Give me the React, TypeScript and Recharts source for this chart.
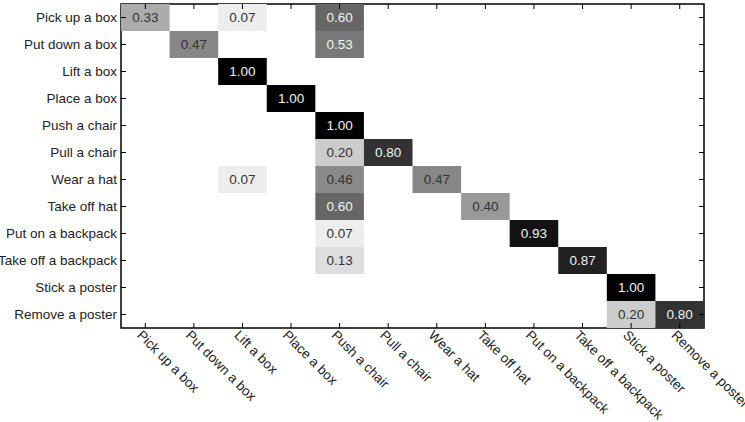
import React from "react";
import {
  ScatterChart,
  Scatter,
  XAxis,
  YAxis,
  ReferenceArea,
} from "recharts";

// action classes, same order on both axes
const actions = [
  "Pick up a box",
  "Put down a box",
  "Lift a box",
  "Place a box",
  "Push a chair",
  "Pull a chair",
  "Wear a hat",
  "Take off hat",
  "Put on a backpack",
  "Take off a backpack",
  "Stick a poster",
  "Remove a poster",
];

// confusion matrix rows (actual) x columns (predicted)
const matrix = [
  [0.33, 0, 0.07, 0, 0.6, 0, 0, 0, 0, 0, 0, 0],
  [0, 0.47, 0, 0, 0.53, 0, 0, 0, 0, 0, 0, 0],
  [0, 0, 1.0, 0, 0, 0, 0, 0, 0, 0, 0, 0],
  [0, 0, 0, 1.0, 0, 0, 0, 0, 0, 0, 0, 0],
  [0, 0, 0, 0, 1.0, 0, 0, 0, 0, 0, 0, 0],
  [0, 0, 0, 0, 0.2, 0.8, 0, 0, 0, 0, 0, 0],
  [0, 0, 0.07, 0, 0.46, 0, 0.47, 0, 0, 0, 0, 0],
  [0, 0, 0, 0, 0.6, 0, 0, 0.4, 0, 0, 0, 0],
  [0, 0, 0, 0, 0.07, 0, 0, 0, 0.93, 0, 0, 0],
  [0, 0, 0, 0, 0.13, 0, 0, 0, 0, 0.87, 0, 0],
  [0, 0, 0, 0, 0, 0, 0, 0, 0, 0, 1.0, 0],
  [0, 0, 0, 0, 0, 0, 0, 0, 0, 0, 0.2, 0.8],
];

const cells = matrix.flatMap((row, r) =>
  row
    .map((v, c) => ({ x: c, y: r, v }))
    .filter((d) => d.v > 0)
);

const ticks = actions.map((_, i) => i);

const WIDTH = 745;
const HEIGHT = 422;
const Y_AXIS_W = 121;
const X_AXIS_H = 94;
const MARGIN = { top: 4, right: 41, bottom: 0, left: 0 };
const PLOT_W = WIDTH - Y_AXIS_W - MARGIN.right - MARGIN.left;
const PLOT_H = HEIGHT - X_AXIS_H - MARGIN.top - MARGIN.bottom;
const CELL_W = PLOT_W / actions.length;
const CELL_H = PLOT_H / actions.length;
const FONT = "'Liberation Sans', Arial, Helvetica, sans-serif";
const FONT_SIZE = 13.5;
const TICK_LEN = 5;

const grey = (v: number) => {
  const g = Math.round(255 * (1 - v));
  return `rgb(${g},${g},${g})`;
};

const CellShape = (props: any) => {
  const { cx, cy, payload } = props;
  if (cx == null || cy == null) return null;
  return (
    <g>
      <rect
        x={cx - CELL_W / 2}
        y={cy - CELL_H / 2}
        width={CELL_W}
        height={CELL_H}
        fill={grey(payload.v)}
      />
      <text
        x={cx}
        y={cy}
        dy="0.35em"
        textAnchor="middle"
        fontSize={FONT_SIZE}
        fontFamily={FONT}
        fill={payload.v > 0.5 ? "#f2f2f2" : "#333"}
      >
        {payload.v.toFixed(2)}
      </text>
    </g>
  );
};

const XTick = (props: any) => {
  const { x, y, payload } = props;
  return (
    <g>
      <line x1={x} y1={y} x2={x} y2={y - TICK_LEN} stroke="#000" />
      <line
        x1={x}
        y1={y - PLOT_H}
        x2={x}
        y2={y - PLOT_H + TICK_LEN}
        stroke="#000"
      />
      <text
        transform={`translate(${x - 9},${y + 8}) rotate(45)`}
        textAnchor="start"
        fontSize={FONT_SIZE}
        fontFamily={FONT}
        fill="#222"
      >
        {actions[payload.value]}
      </text>
    </g>
  );
};

const YTick = (props: any) => {
  const { x, y, payload } = props;
  return (
    <g>
      <line x1={x} y1={y} x2={x + TICK_LEN} y2={y} stroke="#000" />
      <line
        x1={x + PLOT_W}
        y1={y}
        x2={x + PLOT_W - TICK_LEN}
        y2={y}
        stroke="#000"
      />
      <text
        x={x - 4}
        y={y}
        dy="0.35em"
        textAnchor="end"
        fontSize={FONT_SIZE}
        fontFamily={FONT}
        fill="#222"
      >
        {actions[payload.value]}
      </text>
    </g>
  );
};

export default function App() {
  return (
    <div style={{ position: "absolute", left: 0, top: 0, background: "#fff" }}>
      <ScatterChart width={WIDTH} height={HEIGHT} margin={MARGIN}>
        <XAxis
          type="number"
          dataKey="x"
          domain={[-0.5, 11.5]}
          ticks={ticks}
          interval={0}
          height={X_AXIS_H}
          tickSize={0}
          tickMargin={0}
          axisLine={false}
          tick={<XTick />}
        />
        <YAxis
          type="number"
          dataKey="y"
          domain={[-0.5, 11.5]}
          ticks={ticks}
          interval={0}
          reversed
          width={Y_AXIS_W}
          tickSize={0}
          tickMargin={0}
          axisLine={false}
          tick={<YTick />}
        />
        <Scatter
          data={cells}
          shape={<CellShape />}
          isAnimationActive={false}
        />
        <ReferenceArea
          x1={-0.5}
          x2={11.5}
          y1={-0.5}
          y2={11.5}
          fill="none"
          stroke="#000"
          strokeWidth={1.5}
          ifOverflow="visible"
        />
      </ScatterChart>
    </div>
  );
}
